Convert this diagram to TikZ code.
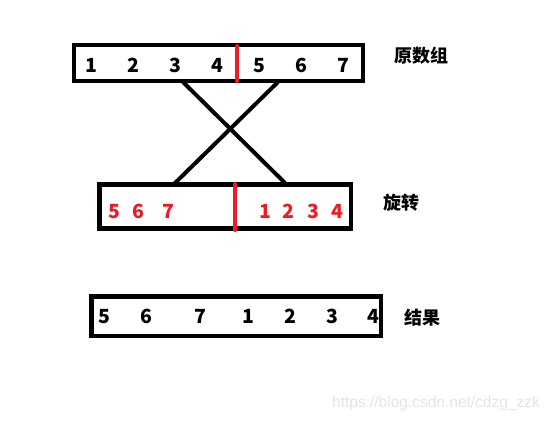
\documentclass[tikz,border=0pt]{standalone}
\usepackage{fontspec}
\setmainfont{Noto Sans CJK SC}
\newfontfamily\wmfont{Liberation Sans}
\usetikzlibrary{calc}
\definecolor{paintred}{HTML}{ED1C24}
\definecolor{wmgray}{HTML}{E4E4E4}
\tikzset{
  arr/.style={draw, line width=4.5pt, inner sep=0pt},
  num/.style={font=\fontsize{19.5}{19.5}\selectfont\bfseries, inner sep=0pt, anchor=base},
  rnum/.style={num, text=paintred},
  lbl/.style={font=\fontsize{18}{18}\selectfont\bfseries, inner sep=0pt},
  cut/.style={paintred, line width=4pt, line cap=round},
  cross/.style={line width=4pt}
}

\begin{document}
\begin{tikzpicture}[x=1pt, y=-1pt]
\useasboundingbox (0,0) rectangle (551,422);
% original array
\node[arr, minimum width=289pt, minimum height=36pt] (orig) at (218.5,63) {};
\node[num] (o1) at (91,73) {1};
\node[num] (o2) at (133,73) {2};
\node[num] (o3) at (175,73) {3};
\node[num] (o4) at (217,73) {4};
\node[num] (o5) at (259,73) {5};
\node[num] (o6) at (301,73) {6};
\node[num] (o7) at (343,73) {7};
\coordinate (ocuttop) at (237,46);
\coordinate (ocutbot) at (237,81);
\draw[cut] (ocuttop) -- (ocutbot);
\node[lbl] (origlbl) at (421,56) {原数组};

% rotated
\node[arr, minimum width=251.5pt, minimum height=44pt] (rot) at (225.25,206.5) {};
\node[rnum] (r5) at (114,218) {5};
\node[rnum] (r6) at (138,218) {6};
\node[rnum] (r7) at (168,218) {7};
\node[rnum] (r1) at (265,218) {1};
\node[rnum] (r2) at (288,218) {2};
\node[rnum] (r3) at (313,218) {3};
\node[rnum] (r4) at (337,218) {4};
\coordinate (rcuttop) at (235,184);
\coordinate (rcutbot) at (235,230);
\draw[cut] (rcuttop) -- (rcutbot);
\node[lbl] (rotlbl) at (401,203) {旋转};

% crossing
\coordinate (xa) at (183,82);
\coordinate (xb) at (285,183);
\coordinate (xc) at (278,82);
\coordinate (xd) at (173,185);
\draw[cross] (xa) -- (xb);
\draw[cross] (xc) -- (xd);

% result
\node[arr, minimum width=289.5pt, minimum height=39.5pt] (res) at (236.25,316.25) {};
\node[num] (s5) at (104,323) {5};
\node[num] (s6) at (146,323) {6};
\node[num] (s7) at (200,323) {7};
\node[num] (s1) at (248,323) {1};
\node[num] (s2) at (290,323) {2};
\node[num] (s3) at (332,323) {3};
\node[num] (s4) at (373,323) {4};
\node[lbl] (reslbl) at (422,318) {结果};

\node[font=\wmfont\fontsize{15.5}{15.5}\selectfont, text=wmgray, anchor=west, inner sep=0pt] (wm) at (332,403) {https://blog.csdn.net/cdzg\_zzk};
\end{tikzpicture}
\end{document}
